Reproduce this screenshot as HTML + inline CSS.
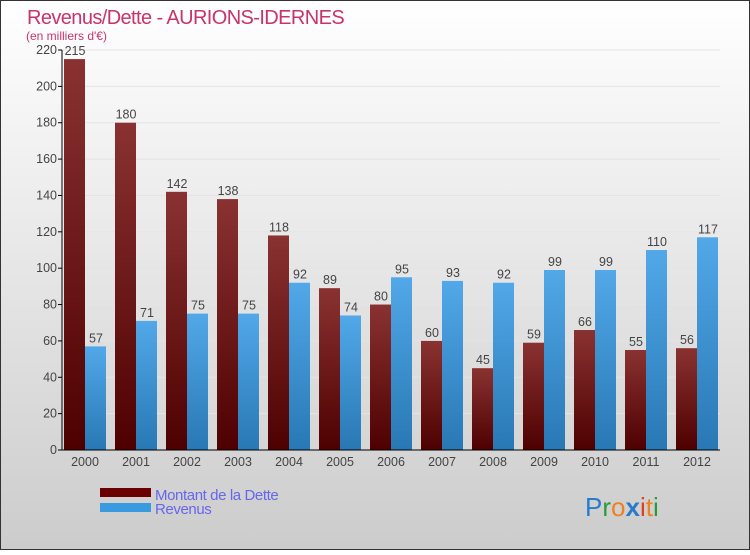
<!DOCTYPE html>
<html><head><meta charset="utf-8"><style>
body{margin:0;}
#c{width:750px;height:550px;position:relative;font-family:"Liberation Sans",sans-serif;}
</style></head><body>
<div id="c">
<svg id="s" width="750" height="550" xmlns="http://www.w3.org/2000/svg">
<defs>
<linearGradient id="bg" x1="0" y1="0" x2="0" y2="1"><stop offset="0" stop-color="#ffffff"/><stop offset="1" stop-color="#cccccc"/></linearGradient>
<linearGradient id="gd" x1="0" y1="0" x2="0" y2="1"><stop offset="0" stop-color="#8a3232"/><stop offset="1" stop-color="#4e0000"/></linearGradient>
<linearGradient id="gr" x1="0" y1="0" x2="0" y2="1"><stop offset="0" stop-color="#52a8e8"/><stop offset="1" stop-color="#2878b4"/></linearGradient>
</defs>
<rect x="0.5" y="0.5" width="749" height="549" fill="url(#bg)" stroke="#333"/>
<text x="27" y="24" font-size="20" fill="#c8336b" style="letter-spacing:-0.6px">Revenus/Dette - AURIONS-IDERNES</text>
<text x="26" y="40" font-size="12" fill="#c8336b">(en milliers d'€)</text>
<g id="grid"></g><g id="bars"></g><g id="axes"></g>
<rect x="100" y="488" width="51" height="9" fill="#6a0000"/>
<rect x="100" y="503" width="51" height="9" fill="#3a9ae0"/>
<text x="155" y="500" font-size="15" fill="#6666ee" style="letter-spacing:-0.4px">Montant de la Dette</text>
<text x="155" y="514" font-size="15" fill="#6666ee" style="letter-spacing:-0.4px">Revenus</text>
<g font-size="26" font-family="'Liberation Sans',sans-serif">
<text x="585" y="516"><tspan fill="#2a7acc">P</tspan><tspan fill="#2a9a3a">r</tspan><tspan fill="#f08020">o</tspan><tspan fill="#2a7acc" font-weight="bold">x</tspan><tspan fill="#e04020">i</tspan><tspan fill="#f08020">t</tspan><tspan fill="#2a9a3a">i</tspan></text>
</g>
</svg>
</div>
<script>
const years=["2000","2001","2002","2003","2004","2005","2006","2007","2008","2009","2010","2011","2012"];
const dette=[215,180,142,138,118,89,80,60,45,59,66,55,56];
const revenus=[57,71,75,75,92,74,95,93,92,99,99,110,117];
const ticks=[0,20,40,60,80,100,120,140,160,180,200,220];
const NS="http://www.w3.org/2000/svg";
const x0=62,x1=720,y0=450,yMax=220,h=400;
const y=v=>y0-v/yMax*h;
const gx=i=>85+i*51;
function mk(t,a,p){const e=document.createElementNS(NS,t);for(const k in a)e.setAttribute(k,a[k]);p.appendChild(e);return e;}
const grid=document.getElementById('grid'),bars=document.getElementById('bars'),axes=document.getElementById('axes');
ticks.forEach(t=>{
  if(t>0){const l=mk('line',{x1:x0,x2:x1,y1:y(t),y2:y(t),stroke:'#e4e4e4'},grid);
  
  }
  const tk=mk('line',{x1:x0-4,x2:x0,y1:y(t),y2:y(t),stroke:'#000'},axes);
  
  
  const tx=mk('text',{x:x0-5,y:y(t)+4,'font-size':12.5,fill:'#444','text-anchor':'end'},axes);
  tx.textContent=t;
  
  
});
years.forEach((yr,i)=>{
  const c=gx(i);
  const b1=mk('rect',{x:c-21,y:y(dette[i]),width:21,height:y0-y(dette[i]),fill:'url(#gd)'},bars);
  
  
  const b2=mk('rect',{x:c,y:y(revenus[i]),width:21,height:y0-y(revenus[i]),fill:'url(#gr)'},bars);
  
  
  const l1=mk('text',{x:c-10,y:y(dette[i])-4,'font-size':12.5,fill:'#444','text-anchor':'middle'},bars);
  l1.textContent=dette[i];
  
  
  const l2=mk('text',{x:c+11,y:y(revenus[i])-4,'font-size':12.5,fill:'#444','text-anchor':'middle'},bars);
  l2.textContent=revenus[i];
  
  
  const xl=mk('text',{x:c,y:466,'font-size':12.5,fill:'#444','text-anchor':'middle'},axes);
  xl.textContent=yr;
  
  
});
const ya=mk('line',{x1:x0,x2:x0,y1:50,y2:y0,stroke:'#000'},axes);


const xa=mk('line',{x1:x0,x2:x1,y1:y0,y2:y0,stroke:'#000'},axes);


</script>
</body></html>
